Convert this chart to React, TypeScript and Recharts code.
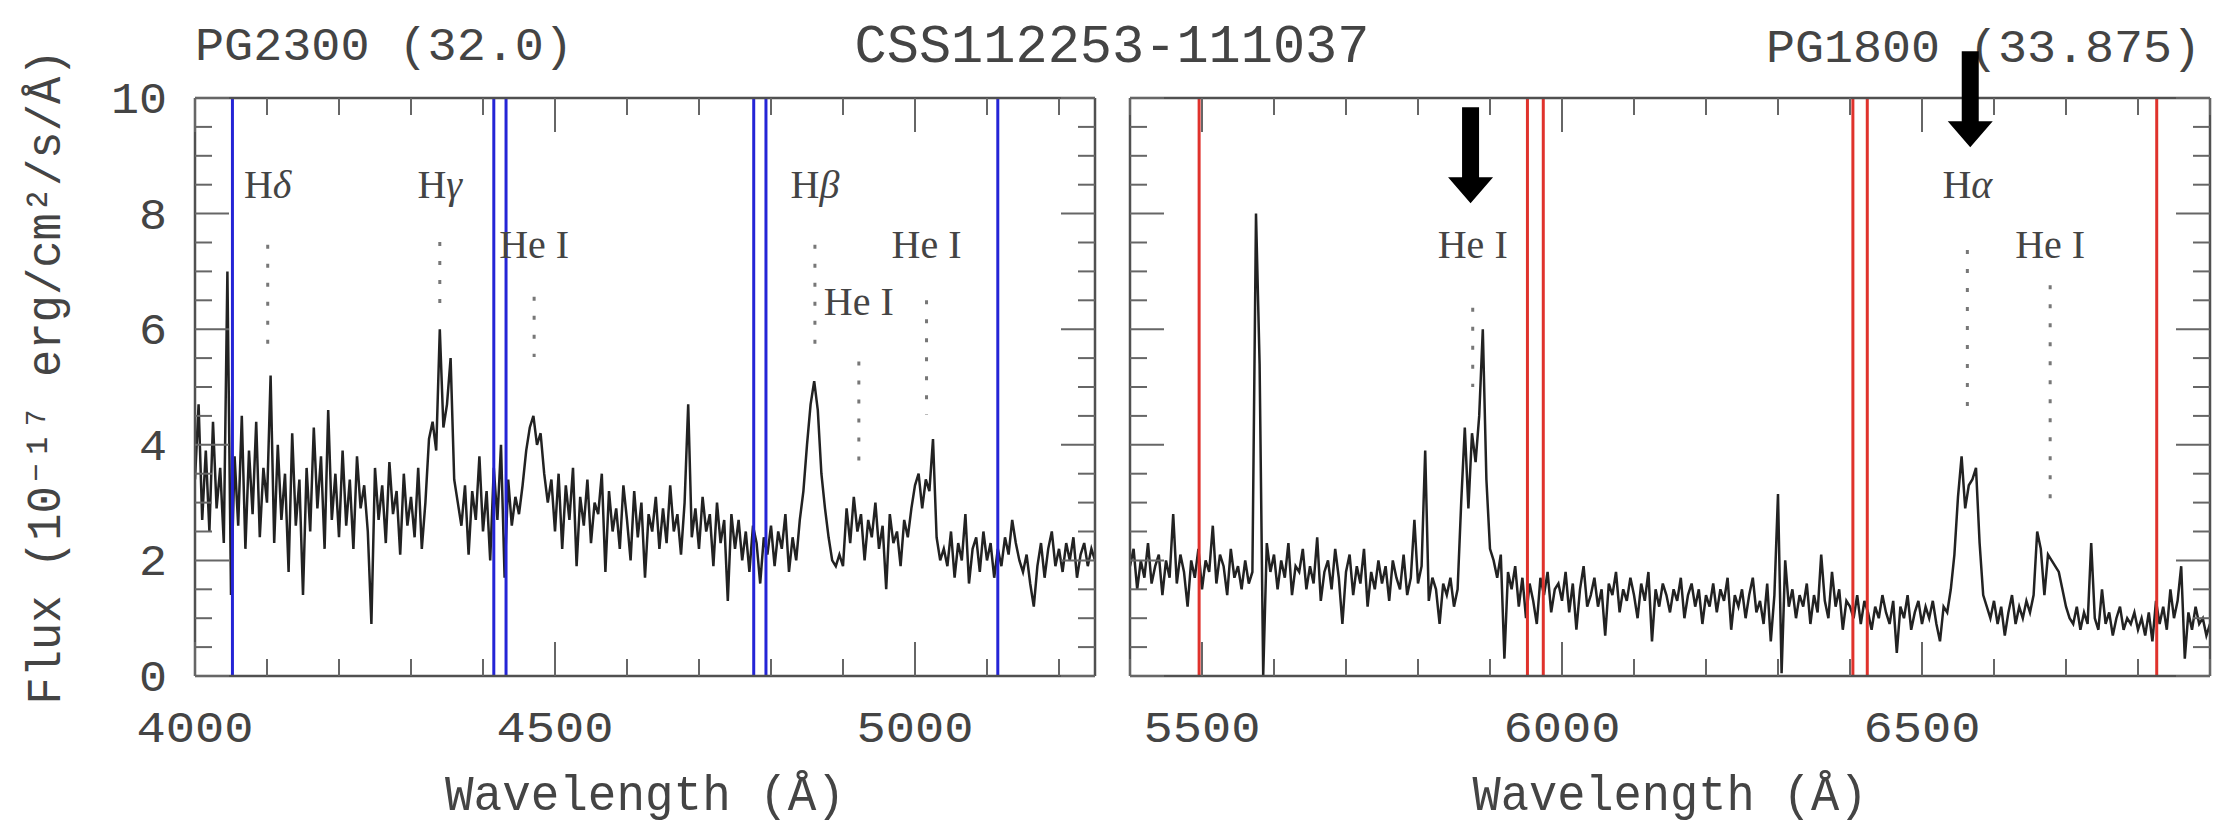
import { LineChart, Line, XAxis, YAxis, ReferenceLine, ReferenceDot } from 'recharts'

const W = 2214
const H = 825

// flux samples, 5 Å apart
const LEFT_START = 4000
const RIGHT_START = 5400
const STEP = 5

const leftFlux = [
  3.4, 4.7, 2.7, 3.9, 2.5, 4.4, 2.9, 3.6, 2.3, 7.0,
  1.4, 3.8, 2.6, 4.5, 2.2, 3.9, 2.8, 4.4, 2.4, 3.6,
  3.0, 5.2, 2.3, 4.0, 2.7, 3.5, 1.8, 4.2, 2.6, 3.4,
  1.4, 3.6, 2.5, 4.3, 2.9, 3.8, 2.2, 4.6, 2.7, 3.5,
  2.4, 3.9, 2.6, 3.4, 2.2, 3.8, 2.9, 3.3, 2.5, 0.9,
  3.6, 2.7, 3.3, 2.3, 3.7, 2.8, 3.2, 2.1, 3.5, 2.6,
  3.1, 2.4, 3.6, 2.2, 3.0, 4.1, 4.4, 3.9, 6.0, 4.3,
  4.7, 5.5, 3.4, 3.0, 2.6, 3.3, 2.1, 3.2, 2.7, 3.8,
  2.5, 3.2, 2.0, 3.6, 2.7, 4.0, 1.7, 3.4, 2.6, 3.1,
  2.8, 3.3, 3.9, 4.3, 4.5, 4.0, 4.2, 3.5, 3.0, 3.4,
  2.5, 3.5, 2.2, 3.3, 2.7, 3.6, 1.9, 3.1, 2.6, 3.4,
  2.3, 3.0, 2.8, 3.5, 1.8, 3.2, 2.5, 2.9, 2.2, 3.3,
  2.7, 2.0, 3.2, 2.4, 3.0, 1.7, 2.8, 2.5, 3.1, 2.2,
  2.9, 2.3, 3.3, 2.5, 2.8, 2.1, 3.0, 4.7, 2.4, 2.9,
  2.2, 3.1, 2.5, 2.8, 1.9, 3.0, 2.3, 2.7, 1.3, 2.8,
  2.2, 2.7, 2.0, 2.5, 1.8, 2.6, 2.3, 1.6, 2.4, 2.1,
  2.6, 1.9, 2.5, 2.2, 2.8, 1.8, 2.4, 2.0, 2.7, 3.2,
  4.0, 4.7, 5.1, 4.6, 3.5, 2.9, 2.4, 2.0, 1.9, 2.1,
  1.9, 2.9, 2.3, 3.1, 2.5, 2.8, 2.0, 2.7, 2.4, 3.0,
  2.2, 2.6, 1.5, 2.8, 2.3, 2.5, 1.9, 2.7, 2.4, 2.9,
  3.3, 3.5, 2.9, 3.4, 3.2, 4.1, 2.4, 2.0, 2.2, 1.9,
  2.5, 1.7, 2.3, 2.0, 2.8, 1.6, 2.2, 2.4, 1.8, 2.5,
  2.0, 2.3, 1.7, 2.2, 1.9, 2.4, 2.1, 2.7, 2.3, 2.0,
  1.8, 2.1, 1.6, 1.2, 1.9, 2.3, 1.7, 2.2, 2.5, 1.9,
  2.2, 1.8, 2.3, 2.0, 2.4, 1.7, 2.1, 2.3, 1.9, 2.2,
  2.0,
]

const rightFlux = [
  1.9, 2.2, 1.5, 2.0, 1.7, 2.3, 1.6, 1.9, 2.1, 1.4,
  2.0, 1.7, 2.8, 1.6, 2.1, 1.8, 1.2, 2.0, 1.7, 2.2,
  1.5, 2.0, 1.8, 2.6, 1.6, 2.1, 1.9, 1.4, 2.2, 1.7,
  1.9, 1.5, 2.0, 1.6, 1.8, 8.0, 5.4, 0.0, 2.3, 1.8,
  2.1, 1.5, 2.0, 1.7, 2.3, 1.4, 1.9, 1.8, 2.2, 1.5,
  1.9, 1.6, 2.4, 1.3, 1.8, 2.0, 1.5, 2.2, 1.7, 0.9,
  1.8, 2.1, 1.4, 1.9, 1.6, 2.2, 1.2, 1.8, 1.5, 2.0,
  1.6, 1.9, 1.3, 2.0, 1.7, 1.5, 2.1, 1.4, 1.7, 2.7,
  1.6, 1.9, 3.9, 1.3, 1.7, 1.5, 0.9, 1.6, 1.4, 1.7,
  1.2, 1.5, 3.0, 4.3, 2.9, 4.2, 3.7, 4.5, 6.0, 3.4,
  2.2, 2.0, 1.7, 2.1, 0.3, 1.8, 1.5, 1.9, 1.2, 1.7,
  1.0, 1.6, 1.3, 0.9, 1.7, 1.4, 1.8, 1.1, 1.5, 1.6,
  1.3, 1.8, 1.1, 1.6, 0.8, 1.5, 1.9, 1.2, 1.4, 1.7,
  1.2, 1.5, 0.7, 1.6, 1.4, 1.8, 1.1, 1.5, 1.3, 1.7,
  1.4, 1.0, 1.6, 1.3, 1.8, 0.6, 1.5, 1.2, 1.6, 1.4,
  1.1, 1.5, 1.3, 1.7, 1.0, 1.4, 1.6, 1.2, 1.5, 0.9,
  1.4, 1.2, 1.6, 1.1, 1.5, 1.3, 1.7, 0.8, 1.4, 1.2,
  1.5, 1.0, 1.4, 1.7, 1.1, 1.3, 0.9, 1.6, 0.6, 1.4,
  3.15, 0.05, 2.0, 1.2, 1.5, 1.0, 1.4, 1.2, 1.6, 0.9,
  1.4, 1.1, 2.1, 1.3, 1.0, 1.8, 1.2, 1.5, 0.8, 1.3,
  1.2, 1.0, 1.4, 0.9, 1.3, 1.1, 0.8, 1.2, 1.0, 1.4,
  1.1, 0.9, 1.3, 0.4, 1.2, 1.0, 1.4, 0.8, 1.1, 1.3,
  0.9, 1.2, 1.0, 1.3, 0.9, 0.6, 1.2, 1.1, 1.5, 2.1,
  3.1, 3.8, 2.9, 3.3, 3.4, 3.6, 2.3, 1.4, 1.2, 1.0,
  1.3, 0.9, 1.2, 0.7, 1.1, 1.4, 0.9, 1.2, 1.0, 1.3,
  1.1, 1.4, 2.5, 2.2, 1.4, 2.1, 2.0, 1.9, 1.8, 1.5,
  1.2, 1.0, 0.9, 1.2, 0.8, 1.1, 0.9, 2.3, 1.0, 0.8,
  1.5, 0.9, 1.1, 0.7, 1.0, 1.2, 0.8, 1.0, 0.9, 1.1,
  0.8, 1.0, 0.7, 1.1, 0.6, 1.3, 0.9, 1.2, 0.8, 1.5,
  1.0, 1.3, 1.9, 0.3, 1.1, 0.8, 1.2, 0.9, 1.0, 0.7,
  0.9,
]

const leftTicks = [4000, 4100, 4200, 4300, 4400, 4500, 4600, 4700, 4800, 4900, 5000, 5100, 5200]
const rightTicks = [5400, 5500, 5600, 5700, 5800, 5900, 6000, 6100, 6200, 6300, 6400, 6500, 6600, 6700, 6800, 6900]
const yTicks = [0, 0.5, 1, 1.5, 2, 2.5, 3, 3.5, 4, 4.5, 5, 5.5, 6, 6.5, 7, 7.5, 8, 8.5, 9, 9.5, 10]
const xLabelTicks = [4000, 4500, 5000, 5500, 6000, 6500]
const yLabelTicks = [0, 2, 4, 6, 8, 10]

// chip gaps / instrument edges
const blueLines = [4052, 4415, 4432, 4776, 4793, 5115]
const redLines = [5496, 5952, 5974, 6404, 6424, 6826]

// line ids: label, rest wavelength, label baseline, dotted marker top/bottom (flux units)
const leftIds = [
  { label: 'H', greek: 'δ', wave: 4101, textY: 8.27, top: 7.46, bottom: 5.52 },
  { label: 'H', greek: 'γ', wave: 4340, textY: 8.27, top: 7.51, bottom: 6.45 },
  { label: 'He I', greek: '', wave: 4471, textY: 7.23, top: 6.56, bottom: 5.52 },
  { label: 'H', greek: 'β', wave: 4861, textY: 8.27, top: 7.46, bottom: 5.52 },
  { label: 'He I', greek: '', wave: 4922, textY: 6.25, top: 5.44, bottom: 3.53 },
  { label: 'He I', greek: '', wave: 5016, textY: 7.23, top: 6.5, bottom: 4.52 },
]
const rightIds = [
  { label: 'He I', greek: '', wave: 5876, textY: 7.23, top: 6.37, bottom: 5.0 },
  { label: 'H', greek: 'α', wave: 6563, textY: 8.27, top: 7.37, bottom: 4.52 },
  { label: 'He I', greek: '', wave: 6678, textY: 7.23, top: 6.76, bottom: 3.05 },
]
const arrows = [
  { wave: 5873, tip: 8.18 },
  { wave: 6567, tip: 9.15 },
]

const leftData = leftFlux.map((f, i) => ({ w: LEFT_START + i * STEP, f }))
const rightData = rightFlux.map((f, i) => ({ w: RIGHT_START + i * STEP, f }))

const FRAME = '#505050'
const TICK = '#666'
const TEXT = '#444'
const MONO = '"Liberation Mono", "DejaVu Sans Mono", monospace'
const SERIF = '"Liberation Serif", "DejaVu Serif", serif'

function BottomTick(p: any) {
  const v = p.payload.value
  const major = v % 500 === 0
  return (
    <g>
      <line x1={p.x} x2={p.x} y1={p.y} y2={p.y - (major ? 34 : 17)} stroke={TICK} strokeWidth={2} />
      {xLabelTicks.includes(v) && (
        <text x={p.x} y={p.y + 66} textAnchor="middle" fontFamily={MONO} fontSize={44} fill={TEXT} textLength={117} lengthAdjust="spacingAndGlyphs">
          {v}
        </text>
      )}
    </g>
  )
}

function TopTick(p: any) {
  const major = p.payload.value % 500 === 0
  return <line x1={p.x} x2={p.x} y1={p.y} y2={p.y + (major ? 34 : 17)} stroke={TICK} strokeWidth={2} />
}

function LeftTick(p: any) {
  const v = p.payload.value
  const major = v % 2 === 0
  return (
    <g>
      <line x1={p.x} x2={p.x + (major ? 34 : 17)} y1={p.y} y2={p.y} stroke={TICK} strokeWidth={2} />
      {p.showLabels && yLabelTicks.includes(v) && (
        <text x={p.x - 28} y={p.y + 15} textAnchor="end" fontFamily={MONO} fontSize={44} fill={TEXT}
          textLength={String(v).length * 28} lengthAdjust="spacingAndGlyphs">
          {v}
        </text>
      )}
    </g>
  )
}

function RightTick(p: any) {
  const major = p.payload.value % 2 === 0
  return <line x1={p.x} x2={p.x - (major ? 34 : 17)} y1={p.y} y2={p.y} stroke={TICK} strokeWidth={2} />
}

function Arrow(p: any) {
  const { cx, cy } = p
  const pts = [
    [cx - 8.5, cy - 96], [cx + 8.5, cy - 96], [cx + 8.5, cy - 26], [cx + 22.5, cy - 26],
    [cx, cy], [cx - 22.5, cy - 26], [cx - 8.5, cy - 26],
  ].map((q) => q.join(',')).join(' ')
  return <polygon points={pts} fill="#000" />
}

function IdLabel(p: any) {
  return (
    <text x={p.cx} y={p.cy} textAnchor="middle" fontFamily={SERIF} fontSize={40} fill={TEXT}>
      {p.label}
      {p.greek && <tspan fontStyle="italic">{p.greek}</tspan>}
    </text>
  )
}

const axisLine = { stroke: FRAME, strokeWidth: 2.5 }

// axes are 1px thick (recharts skips 0-size axes); margins are shrunk by 1 to compensate
function Panel({ data, domain, ticks, box, vlines, vcolor, ids, showYLabels, marks }: any) {
  const margin = { top: box.top - 1, bottom: H - box.bottom - 1, left: box.left - 1, right: W - box.right - 1 }
  return (
    <LineChart width={W} height={H} data={data} margin={margin}>
      <XAxis type="number" dataKey="w" domain={domain} allowDataOverflow ticks={ticks} interval={0}
        height={1} tickSize={0} tickMargin={0} tickLine={false} axisLine={axisLine} tick={(p: any) => <BottomTick {...p} />} />
      <XAxis xAxisId="top" orientation="top" type="number" dataKey="w" domain={domain} allowDataOverflow ticks={ticks} interval={0}
        height={1} tickSize={0} tickMargin={0} tickLine={false} axisLine={axisLine} tick={(p: any) => <TopTick {...p} />} />
      <YAxis type="number" domain={[0, 10]} allowDataOverflow ticks={yTicks} interval={0}
        width={1} tickSize={0} tickMargin={0} tickLine={false} axisLine={axisLine} tick={(p: any) => <LeftTick {...p} showLabels={showYLabels} />} />
      <YAxis yAxisId="right" orientation="right" type="number" domain={[0, 10]} allowDataOverflow ticks={yTicks} interval={0}
        width={1} tickSize={0} tickMargin={0} tickLine={false} axisLine={axisLine} tick={(p: any) => <RightTick {...p} />} />
      <Line type="linear" dataKey="f" stroke="#222" strokeWidth={2.5} dot={false} isAnimationActive={false} />
      {vlines.map((x: number) => (
        <ReferenceLine key={x} x={x} stroke={vcolor} strokeWidth={3} />
      ))}
      {ids.map((d: any) => (
        <ReferenceLine key={'s' + d.wave} segment={[{ x: d.wave, y: d.top }, { x: d.wave, y: d.bottom }]}
          stroke="#777" strokeWidth={3} strokeDasharray="4 15" />
      ))}
      {ids.map((d: any) => (
        <ReferenceDot key={'t' + d.wave} x={d.wave} y={d.textY} r={0}
          shape={(p: any) => <IdLabel cx={p.cx} cy={p.cy} label={d.label} greek={d.greek} />} />
      ))}
      {marks.map((a: any) => (
        <ReferenceDot key={'a' + a.wave} x={a.wave} y={a.tip} r={0} shape={(p: any) => <Arrow cx={p.cx} cy={p.cy} />} />
      ))}
    </LineChart>
  )
}

const layer: any = { position: 'absolute', left: 0, top: 0 }

export default function App() {
  return (
    <div style={{ position: 'absolute', left: 0, top: 0, width: W, height: H, background: '#fff', overflow: 'hidden' }}>
      <svg width={W} height={H} style={layer}>
        <g fontFamily={MONO} fill={TEXT}>
          <text x={195} y={60} fontSize={46} textLength={378} lengthAdjust="spacingAndGlyphs">PG2300 (32.0)</text>
          <text x={1112} y={62} fontSize={54} textAnchor="middle" textLength={515} lengthAdjust="spacingAndGlyphs">CSS112253-111037</text>
          <text x={1766} y={62} fontSize={46} textLength={435} lengthAdjust="spacingAndGlyphs">PG1800 (33.875)</text>
          <text x={645} y={810} fontSize={50} textAnchor="middle" textLength={400} lengthAdjust="spacingAndGlyphs">Wavelength (Å)</text>
          <text x={1670} y={810} fontSize={50} textAnchor="middle" textLength={395} lengthAdjust="spacingAndGlyphs">Wavelength (Å)</text>
          <text x={60} y={377} fontSize={48} textAnchor="middle" transform="rotate(-90 60 377)"
            textLength={655} lengthAdjust="spacingAndGlyphs">
            Flux (10⁻¹⁷ erg/cm²/s/Å)
          </text>
        </g>
      </svg>
      <div style={layer}>
        <Panel data={leftData} domain={[4000, 5250]} ticks={leftTicks}
          box={{ left: 195, right: 1095, top: 98, bottom: 676 }}
          vlines={blueLines} vcolor="#2424d6" ids={leftIds} showYLabels marks={[]} />
      </div>
      <div style={layer}>
        <Panel data={rightData} domain={[5400, 6900]} ticks={rightTicks}
          box={{ left: 1130, right: 2210, top: 98, bottom: 676 }}
          vlines={redLines} vcolor="#e0322c" ids={rightIds} showYLabels={false} marks={arrows} />
      </div>
    </div>
  )
}
